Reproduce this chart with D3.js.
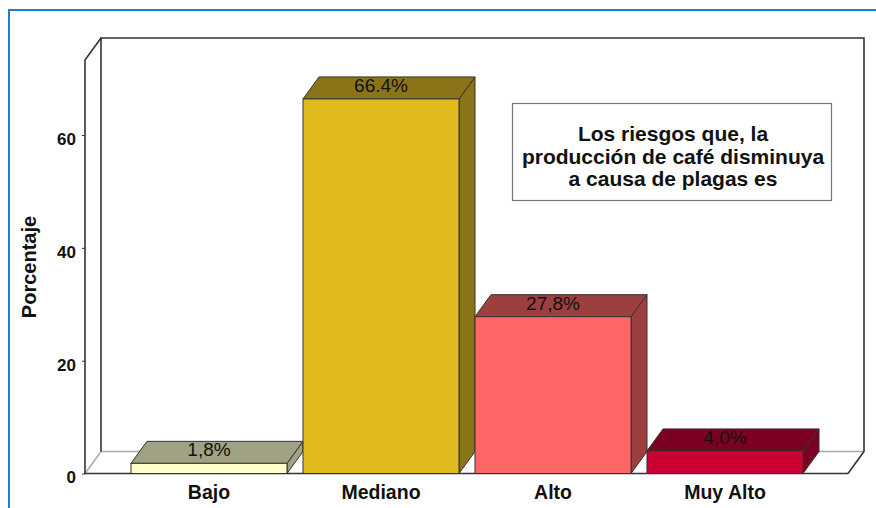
<!DOCTYPE html>
<html>
<head>
<meta charset="utf-8">
<script src="https://cdn.jsdelivr.net/npm/d3@7"></script>
<style>
  body { margin: 0; background: #fff; }
  svg { display: block; }
</style>
</head>
<body>
<div id="chart"></div>
<script>
// values
const categories = ["Bajo", "Mediano", "Alto", "Muy Alto"];
const percents = [1.8, 66.4, 27.8, 4.0];
const valueLabels = ["1,8%", "66.4%", "27,8%", "4,0%"];
const frontColors = ["#FFFFCC", "#E0BB20", "#FF6666", "#CC0033"];
const shadeColors = ["#A1A183", "#8A7417", "#9E3F3F", "#7C0020"];
const yTicks = [0, 20, 40, 60];
const legendLines = ["Los riesgos que, la", "producción de café disminuya", "a causa de plagas es"];

const W = 876, H = 508;
const dx = 16, dy = 22; // depth of the 3D box
const plot = { left: 85, right: 848, top: 60, bottom: 473.5 };
const yMax = 73.3;

const svg = d3.select("#chart").append("svg")
    .attr("width", W)
    .attr("height", H);

// blue frame round the chart
svg.append("rect")
    .attr("x", 9).attr("y", 10)
    .attr("width", W + 20).attr("height", H + 20)
    .attr("fill", "none")
    .attr("stroke", "#1C7FD6")
    .attr("stroke-width", 2);

const x = d3.scaleBand()
    .domain(categories)
    .range([123, 811])
    .paddingInner(0.093)
    .paddingOuter(0.0465);

const y = d3.scaleLinear()
    .domain([0, yMax])
    .range([plot.bottom, plot.top]);

const line = d3.line();
const y0 = y(0);

// walls and floor
const walls = svg.append("g").attr("fill", "none");
walls.append("path") // floor back edge + left wall bottom (light)
    .attr("d", line([[plot.left, y0], [plot.left + dx, y0 - dy], [plot.right + dx, y0 - dy]]))
    .attr("stroke", "#AAAAAA").attr("stroke-width", 1.5);
walls.append("path") // back wall outline
    .attr("d", line([[plot.left + dx, y0 - dy], [plot.left + dx, plot.top - dy],
        [plot.right + dx, plot.top - dy], [plot.right + dx, y0 - dy], [plot.right, y0]]))
    .attr("stroke", "#333").attr("stroke-width", 1.6);
walls.append("path") // left wall front edges
    .attr("d", line([[plot.left + dx, plot.top - dy], [plot.left, plot.top], [plot.left, y0], [plot.right, y0]]))
    .attr("stroke", "#333").attr("stroke-width", 1.6);

// y axis: ticks on the front-left edge
const yAxis = svg.append("g")
    .attr("transform", `translate(${plot.left},0)`)
    .call(d3.axisLeft(y).tickValues(yTicks).tickSize(3).tickPadding(6).tickFormat(d3.format("d")));
yAxis.select(".domain").remove();
yAxis.selectAll("line").attr("stroke", "#333");
yAxis.selectAll("text")
    .attr("dy", "0.32em")
    .attr("y", 4)
    .attr("fill", "#111")
    .style("font-family", "'Liberation Sans Narrow', 'Arial Narrow', 'Liberation Sans', Arial, sans-serif")
    .style("font-weight", "bold")
    .style("font-size", "17px");

svg.append("text")
    .attr("transform", "translate(36,267) rotate(-90)")
    .attr("text-anchor", "middle")
    .style("font-family", "'Liberation Sans', Arial, sans-serif")
    .style("font-weight", "bold")
    .style("font-size", "20px")
    .attr("fill", "#111")
    .text("Porcentaje");

// bars
const bars = svg.selectAll("g.bar")
    .data(categories.map((c, i) => ({ cat: c, v: percents[i], i })))
    .join("g")
    .attr("class", "bar")
    .attr("stroke", "#333")
    .attr("stroke-width", 1);

bars.append("path") // side face
    .attr("d", d => {
        const x1 = x(d.cat) + x.bandwidth(), yv = y(d.v);
        return line([[x1, yv], [x1 + dx, yv - dy], [x1 + dx, y0 - dy], [x1, y0]]) + "Z";
    })
    .attr("fill", d => shadeColors[d.i]);

bars.append("path") // top face
    .attr("d", d => {
        const x0 = x(d.cat), x1 = x0 + x.bandwidth(), yv = y(d.v);
        return line([[x0, yv], [x0 + dx, yv - dy], [x1 + dx, yv - dy], [x1, yv]]) + "Z";
    })
    .attr("fill", d => shadeColors[d.i]);

bars.append("rect") // front face
    .attr("x", d => x(d.cat))
    .attr("y", d => y(d.v))
    .attr("width", x.bandwidth())
    .attr("height", d => y0 - y(d.v))
    .attr("fill", d => frontColors[d.i]);

bars.append("text")
    .attr("x", d => x(d.cat) + x.bandwidth() / 2)
    .attr("y", d => y(d.v) - 7)
    .attr("text-anchor", "middle")
    .attr("stroke", "none")
    .attr("fill", "#111")
    .style("font-family", "'Liberation Sans', Arial, sans-serif")
    .style("font-size", "19px")
    .text(d => valueLabels[d.i]);

// category labels
svg.append("g")
    .selectAll("text")
    .data(categories)
    .join("text")
    .attr("x", d => x(d) + x.bandwidth() / 2)
    .attr("y", 499)
    .attr("text-anchor", "middle")
    .attr("fill", "#111")
    .style("font-family", "'Liberation Sans', Arial, sans-serif")
    .style("font-weight", "bold")
    .style("font-size", "19.5px")
    .text(d => d);

// legend / title box
const legend = svg.append("g");
legend.append("rect")
    .attr("x", 512.5).attr("y", 103.5)
    .attr("width", 319).attr("height", 97)
    .attr("fill", "#fff")
    .attr("stroke", "#777")
    .attr("stroke-width", 1.2);
legend.selectAll("text")
    .data(legendLines)
    .join("text")
    .attr("x", 673)
    .attr("y", (d, i) => 141 + i * 22.5)
    .attr("text-anchor", "middle")
    .attr("fill", "#111")
    .style("font-family", "'Liberation Sans', Arial, sans-serif")
    .style("font-weight", "bold")
    .style("font-size", "21px")
    .text(d => d);
</script>
</body>
</html>
